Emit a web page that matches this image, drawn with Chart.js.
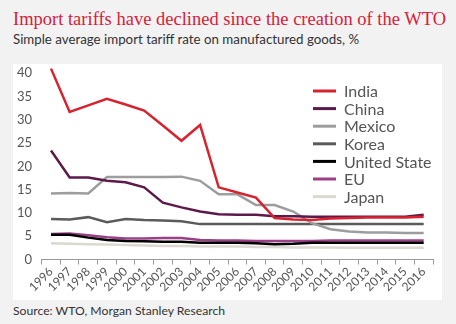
<!DOCTYPE html>
<html>
<head>
<meta charset="utf-8">
<script src="https://cdn.jsdelivr.net/npm/chart.js@4.4.1/dist/chart.umd.min.js"></script>
<style>
  body { margin: 0; width: 456px; height: 324px; background: #f2f2f2; position: relative; overflow: hidden; }
  .titulo { position: absolute; left: 13px; top: 9px; font-family: "Liberation Serif", serif; font-size: 18.5px; color: #d7203a; white-space: nowrap; }
  .subtitulo { position: absolute; left: 13px; top: 31px; font-family: Lato, sans-serif; font-size: 13.3px; color: #333; white-space: nowrap; }
  .fonte { position: absolute; left: 13px; top: 303px; font-family: Lato, sans-serif; font-size: 12.2px; color: #333; white-space: nowrap; }
  .painel { position: absolute; left: 13px; top: 64px; width: 429px; height: 236px; background: #fff; }
</style>
</head>
<body>
<div class="titulo">Import tariffs have declined since the creation of the WTO</div>
<div class="subtitulo">Simple average import tariff rate on manufactured goods, %</div>
<div class="painel"><canvas id="grafico" width="429" height="236"></canvas></div>
<div class="fonte">Source: WTO, Morgan Stanley Research</div>
<script>
// Dados
const anos = ['1996', '1997', '1998', '1999', '2000', '2001', '2002', '2003', '2004', '2005', '2006',
              '2007', '2008', '2009', '2010', '2011', '2012', '2013', '2014', '2015', '2016'];
const paises = ['India', 'China', 'Mexico', 'Korea', 'United State', 'EU', 'Japan'];
const india  = [41.0, 31.7, 33.1, 34.5, 33.3, 32.0, 28.8, 25.5, 28.9, 15.5, 14.4, 13.3, 8.9, 8.6, 8.5, 8.8, 8.9, 9.0, 9.0, 9.0, 9.2];
const china  = [23.4, 17.6, 17.6, 16.9, 16.6, 15.5, 12.2, 11.2, 10.3, 9.7, 9.6, 9.6, 9.3, 9.3, 9.2, 9.2, 9.2, 9.2, 9.2, 9.2, 9.6];
const mexico = [14.2, 14.3, 14.2, 17.7, 17.7, 17.7, 17.7, 17.8, 16.9, 14.0, 14.0, 11.7, 11.7, 10.3, 7.8, 6.5, 6.0, 5.8, 5.8, 5.7, 5.7];
const korea  = [8.7, 8.6, 9.1, 8.0, 8.7, 8.5, 8.4, 8.2, 7.6, 7.6, 7.6, 7.6, 7.6, 7.6, 7.6, 7.6, 7.6, 7.6, 7.6, 7.6, 7.6];
const eua    = [5.3, 5.3, 4.7, 4.2, 4.0, 3.9, 3.8, 3.8, 3.6, 3.6, 3.6, 3.5, 3.3, 3.4, 3.6, 3.6, 3.6, 3.6, 3.6, 3.6, 3.6];
const ue     = [5.5, 5.6, 5.2, 4.8, 4.5, 4.5, 4.6, 4.6, 4.2, 4.1, 4.1, 4.0, 4.0, 4.0, 4.0, 4.1, 4.1, 4.1, 4.1, 4.1, 4.1];
const japao  = [3.5, 3.4, 3.3, 3.2, 3.1, 3.0, 2.9, 2.9, 2.8, 2.8, 2.8, 2.7, 2.7, 2.6, 2.6, 2.6, 2.5, 2.5, 2.5, 2.5, 2.5];
const ticksY = [0, 5, 10, 15, 20, 25, 30, 35, 40];

const series = [india, china, mexico, korea, eua, ue, japao];
const cores = ['#d8232f', '#5c1a4b', '#9d9d9d', '#5b5b5b', '#000000', '#9c3f86', '#dcd8cf'];

// Legenda desenhada dentro da área do gráfico
const legendaInterna = {
    id: 'legendaInterna',
    afterDatasetsDraw(chart) {
        const ctx = chart.ctx;
        ctx.save();
        ctx.font = '16px Lato, sans-serif';
        ctx.textBaseline = 'middle';
        chart.data.datasets.forEach((ds, i) => {
            const y = 27 + i * 17.6;
            ctx.strokeStyle = ds.borderColor;
            ctx.lineWidth = 3;
            ctx.beginPath();
            ctx.moveTo(300, y);
            ctx.lineTo(323, y);
            ctx.stroke();
            ctx.fillStyle = '#555';
            ctx.fillText(ds.label, 331, y + 1);
        });
        ctx.restore();
    }
};

const ctx = document.getElementById('grafico').getContext('2d');
new Chart(ctx, {
    type: 'line',
    data: {
        labels: anos,
        datasets: paises.map((nome, i) => ({
            label: nome,
            data: series[i],
            borderColor: cores[i],
            borderWidth: 2.5,
            pointRadius: 0,
            tension: 0
        }))
    },
    options: {
        responsive: false,
        animation: false,
        layout: { padding: { top: 2.3, right: 9, left: 0, bottom: 0 } },
        plugins: {
            legend: { display: false },
            tooltip: { enabled: false }
        },
        scales: {
            x: {
                offset: true,
                grid: { offset: true, drawOnChartArea: false, drawTicks: true, tickLength: 5, color: '#999' },
                border: { display: true, color: '#999', width: 1 },
                ticks: {
                    autoSkip: false, maxRotation: 45, minRotation: 45, padding: 0,
                    color: '#555', font: { family: 'Lato', size: 12 }
                },
                afterFit(scale) { scale.height = 40.5; scale.paddingLeft = 0; }
            },
            y: {
                min: 0,
                max: 41.5,
                afterBuildTicks(scale) { scale.ticks = ticksY.map(v => ({ value: v })); },
                grid: { display: false, drawTicks: false },
                border: { display: false },
                ticks: { color: '#555', padding: 9.7, font: { family: 'Lato', size: 13 } },
                afterFit(scale) { scale.width = 28.7; scale.paddingTop = 0; scale.paddingBottom = 0; }
            }
        }
    },
    plugins: [legendaInterna]
});
</script>
</body>
</html>
